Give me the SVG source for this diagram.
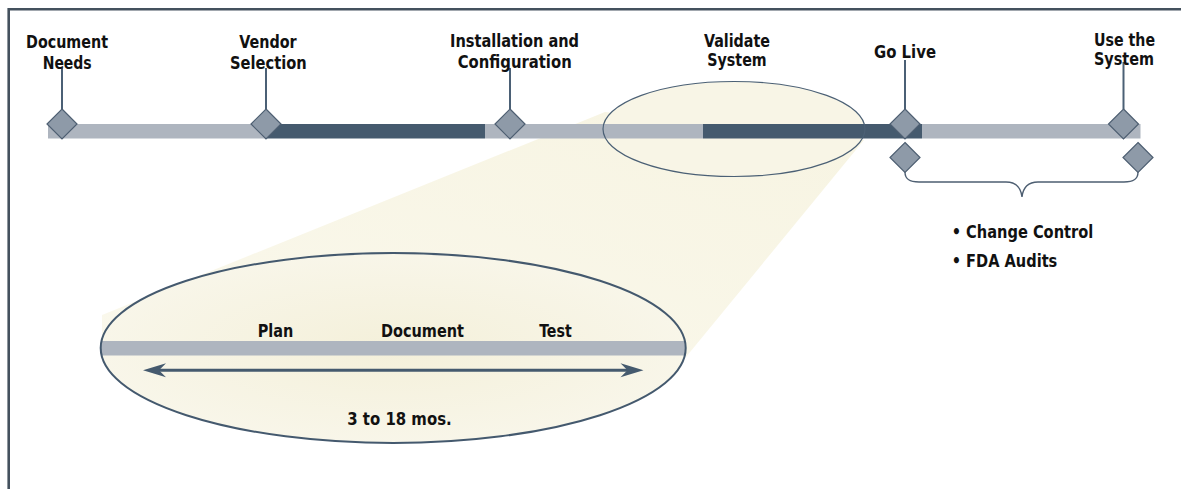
<svg xmlns="http://www.w3.org/2000/svg" width="1181" height="489" viewBox="0 0 1181 489">
<defs>
<style>
.t{font-family:"Liberation Sans Narrow","DejaVu Sans Condensed","Liberation Sans",sans-serif;font-weight:bold;font-size:18.5px;fill:#111}
.dia{fill:#8e9aa8;stroke:#4e5f72;stroke-width:1.2}
.stem{stroke:#4b6075;stroke-width:2;fill:none}
.light{fill:#aeb5bf}
.dark{fill:#455a6e}
</style>
<radialGradient id="cream" cx="0.5" cy="0.5" r="0.6">
<stop offset="0" stop-color="#f4f0da"/>
<stop offset="1" stop-color="#f9f7ec"/>
</radialGradient>
<linearGradient id="beam" x1="1" y1="0" x2="0" y2="1">
<stop offset="0" stop-color="#f7f4e2"/>
<stop offset="1" stop-color="#faf8ec"/>
</linearGradient>
</defs>
<rect width="1181" height="489" fill="#ffffff"/>
<!-- frame -->
<g id="frame" fill="none" stroke="#44515e" stroke-width="2.6">
<path d="M1181,9.3 H8.7 V489"/>
</g>
<!-- magnifier beam -->
<g id="beam-zoom">
<polygon points="102,315 605,112 864,140 686,357 686,348 102,348" fill="url(#beam)"/>
<ellipse cx="734" cy="129" rx="131" ry="47.5" fill="#f8f5e6"/>
<ellipse cx="393.2" cy="348" rx="292.5" ry="95" fill="url(#cream)"/>
</g>
<!-- main timeline bar -->
<g id="timeline">
<rect class="light" x="48" y="124" width="217" height="14.5"/>
<rect class="dark" x="265" y="124" width="220" height="14.5"/>
<rect class="light" x="485" y="124" width="218" height="14.5"/>
<rect class="dark" x="703" y="124" width="219" height="14.5"/>
<rect class="light" x="922" y="124" width="218.5" height="14.5"/>
</g>
<ellipse id="validate-lens" cx="734" cy="129" rx="131" ry="47.5" fill="none" stroke="#4b6075" stroke-width="1.2"/>
<!-- zoomed detail -->
<g id="detail">
<rect class="light" x="101" y="341" width="585" height="14.5"/>
<ellipse cx="393.2" cy="348" rx="292.5" ry="95" fill="none" stroke="#44596e" stroke-width="2"/>
<text class="t" x="257.7" y="337.3" textLength="35.6" lengthAdjust="spacingAndGlyphs">Plan</text>
<text class="t" x="381" y="337.3" textLength="83" lengthAdjust="spacingAndGlyphs">Document</text>
<text class="t" x="539.3" y="337.3" textLength="32.4" lengthAdjust="spacingAndGlyphs">Test</text>
<text class="t" x="347.3" y="425" textLength="104.4" lengthAdjust="spacingAndGlyphs">3 to 18 mos.</text>
</g>
<!-- connectors -->
<g id="connectors">
<line class="stem" x1="62" y1="68" x2="62" y2="109"/>
<line class="stem" x1="266" y1="68" x2="266" y2="109"/>
<line class="stem" x1="510" y1="68" x2="510" y2="109"/>
<line class="stem" x1="905" y1="60" x2="905" y2="109"/>
<line class="stem" x1="1123.5" y1="62" x2="1123.5" y2="109"/>
<path d="M905,172 C905,179 909,182 919,182 L1006,182 C1016,182 1021,188 1022,197 C1023,188 1028,182 1038,182 L1124,182 C1134,182 1138,179 1138,172" fill="none" stroke="#4e5f72" stroke-width="1.4"/>
<line x1="158" y1="370.3" x2="628" y2="370.3" stroke="#455a6e" stroke-width="3"/>
<polygon points="143,370.3 166,363.3 159,370.3 166,377.3" fill="#455a6e"/>
<polygon points="643.5,370.3 620.5,363.3 627.5,370.3 620.5,377.3" fill="#455a6e"/>
</g>
<!-- milestones -->
<g id="document-needs">
<polygon class="dia" points="62,109 77,124 62,139 47,124"/>
<text class="t" x="26" y="47.7" textLength="82" lengthAdjust="spacingAndGlyphs">Document</text>
<text class="t" x="42.7" y="69" textLength="49" lengthAdjust="spacingAndGlyphs">Needs</text>
</g>
<g id="vendor-selection">
<polygon class="dia" points="266,109 281,124 266,139 251,124"/>
<text class="t" x="239.3" y="47.7" textLength="57.4" lengthAdjust="spacingAndGlyphs">Vendor</text>
<text class="t" x="230" y="69" textLength="76.7" lengthAdjust="spacingAndGlyphs">Selection</text>
</g>
<g id="installation">
<polygon class="dia" points="510,109 525,124 510,139 495,124"/>
<text class="t" x="450" y="46.7" textLength="129" lengthAdjust="spacingAndGlyphs">Installation and</text>
<text class="t" x="457.7" y="68.3" textLength="114" lengthAdjust="spacingAndGlyphs">Configuration</text>
</g>
<g id="validate-system">
<text class="t" x="704" y="46.7" textLength="66" lengthAdjust="spacingAndGlyphs">Validate</text>
<text class="t" x="707.3" y="65.5" textLength="59.4" lengthAdjust="spacingAndGlyphs">System</text>
</g>
<g id="go-live">
<polygon class="dia" points="905,109 920,124 905,139 890,124"/>
<polygon class="dia" points="905,142.5 920,157.5 905,172.5 890,157.5"/>
<text class="t" x="874" y="57.7" textLength="62" lengthAdjust="spacingAndGlyphs">Go Live</text>
</g>
<g id="use-system">
<polygon class="dia" points="1123.5,109 1138.5,124 1123.5,139 1108.5,124"/>
<polygon class="dia" points="1138,142.5 1153,157.5 1138,172.5 1123,157.5"/>
<text class="t" x="1094" y="46.2" textLength="61" lengthAdjust="spacingAndGlyphs">Use the</text>
<text class="t" x="1094" y="65.2" textLength="60" lengthAdjust="spacingAndGlyphs">System</text>
</g>
<g id="ongoing">
<text class="t" x="951.7" y="238.3" textLength="141.6" lengthAdjust="spacingAndGlyphs">• Change Control</text>
<text class="t" x="951.7" y="266.7" textLength="105.6" lengthAdjust="spacingAndGlyphs">• FDA Audits</text>
</g>
</svg>
